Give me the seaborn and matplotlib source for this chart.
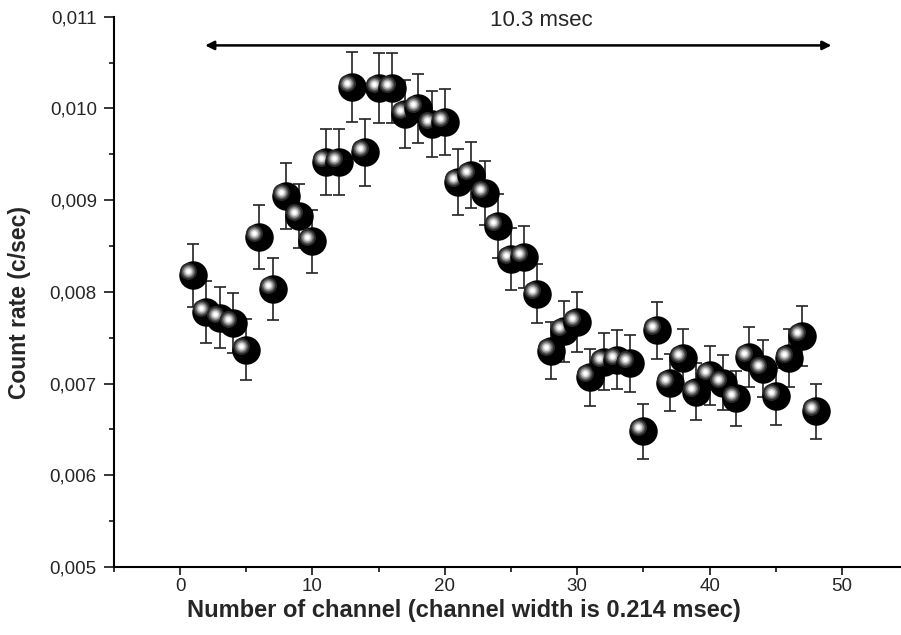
import numpy as np
import seaborn as sns
import matplotlib.pyplot as plt
from matplotlib.ticker import MultipleLocator, FuncFormatter
from matplotlib.transforms import ScaledTranslation

"""
1. Data read off the picture
"""
channels = list(range(1, 49))
count_rate = [0.00818, 0.00778, 0.00772, 0.00766, 0.00737, 0.00860, 0.00803, 0.00905, 0.00883, 0.00855,
              0.00942, 0.00942, 0.01023, 0.00952, 0.01022, 0.01022, 0.00994, 0.01000, 0.00983, 0.00985,
              0.00920, 0.00927, 0.00908, 0.00872, 0.00836, 0.00838, 0.00798, 0.00736, 0.00757, 0.00767,
              0.00707, 0.00724, 0.00726, 0.00722, 0.00648, 0.00758, 0.00701, 0.00728, 0.00691, 0.00709,
              0.00701, 0.00684, 0.00729, 0.00716, 0.00686, 0.00728, 0.00752, 0.00670]
count_err = [0.00034, 0.00034, 0.00033, 0.00033, 0.00033, 0.00035, 0.00034, 0.00036, 0.00035, 0.00034,
             0.00036, 0.00036, 0.00038, 0.00037, 0.00038, 0.00038, 0.00037, 0.00038, 0.00036, 0.00036,
             0.00036, 0.00036, 0.00035, 0.00035, 0.00034, 0.00034, 0.00032, 0.00031, 0.00033, 0.00033,
             0.00031, 0.00031, 0.00032, 0.00031, 0.00030, 0.00031, 0.00031, 0.00032, 0.00031, 0.00032,
             0.00030, 0.00030, 0.00033, 0.00031, 0.00031, 0.00032, 0.00033, 0.00030]

x_label = "Number of channel (channel width is 0.214 msec)"
y_label = "Count rate (c/sec)"
span_label = "10.3 msec"
span_start, span_end, span_level = 1.9, 49.2, 0.010687

"""
2. Style
"""
sns.set_style("ticks")
plt.rcParams['font.family'] = ['Liberation Sans', 'DejaVu Sans']

fig = plt.figure(figsize=(9.01, 6.35), dpi=100)
ax = fig.add_axes([113.8 / 901, 68 / 635, 794.4 / 901, 550.3 / 635])

"""
3. Error bars and shaded spheres
"""
ax.errorbar(channels, count_rate, yerr=count_err, fmt='none', ecolor='#222222',
            elinewidth=1.2, capsize=4.3, capthick=1.2, zorder=2)

# highlight rings, drawn up-left of each sphere centre
shift = ax.transData + ScaledTranslation(-0.05, 0.04, fig.dpi_scale_trans)
rings = [('#2a2a2a', 17), ('#5a5a5a', 13.5), ('#9c9c9c', 10.5), ('#d4d4d4', 7.5), ('white', 4.5)]
for i, (cx, cy) in enumerate(zip(channels, count_rate)):
    z = 3 + i * 0.01
    sns.scatterplot(x=[cx], y=[cy], s=(28.5 * 0.72) ** 2, color='black',
                    linewidth=0, ax=ax, zorder=z, legend=False)
    for k, (col, d) in enumerate(rings):
        ax.scatter([cx], [cy], s=(d * 0.72) ** 2, color=col, linewidths=0,
                   transform=shift, zorder=z + 0.001 * (k + 1))

"""
4. Span arrow and text
"""
ax.annotate('', xy=(span_start, span_level), xytext=(span_end, span_level),
            arrowprops=dict(arrowstyle='<|-|>', lw=1.8, color='black',
                            mutation_scale=13, shrinkA=0, shrinkB=0))
ax.text(27.3, 0.010956, span_label, ha='center', va='center', fontsize=16)

"""
5. Axes
"""
ax.set_xlim(-5, 55)
ax.set_ylim(0.005, 0.011)
ax.xaxis.set_major_locator(MultipleLocator(10))
ax.xaxis.set_minor_locator(MultipleLocator(5))
ax.yaxis.set_major_locator(MultipleLocator(0.001))
ax.yaxis.set_minor_locator(MultipleLocator(0.0005))
ax.yaxis.set_major_formatter(FuncFormatter(lambda v, p: f"{v:.3f}".replace('.', ',')))
ax.tick_params(which='major', length=7.2, width=1.1, labelsize=13.5, color='black', pad=5)
ax.tick_params(which='minor', length=3.6, width=1.1, color='black')
ax.tick_params(axis='x', which='major', length=6, pad=2)
sns.despine(ax=ax)
for side in ['left', 'bottom']:
    ax.spines[side].set_linewidth(1.5)
    ax.spines[side].set_color('black')

ax.set_xlabel(x_label, fontsize=17, fontweight='bold')
ax.set_ylabel(y_label, fontsize=16.5, fontweight='bold')
ax.xaxis.set_label_coords(0.441, -0.058)
ax.yaxis.set_label_coords(-0.104, 0.48)

plt.savefig('out.png', dpi=100)
